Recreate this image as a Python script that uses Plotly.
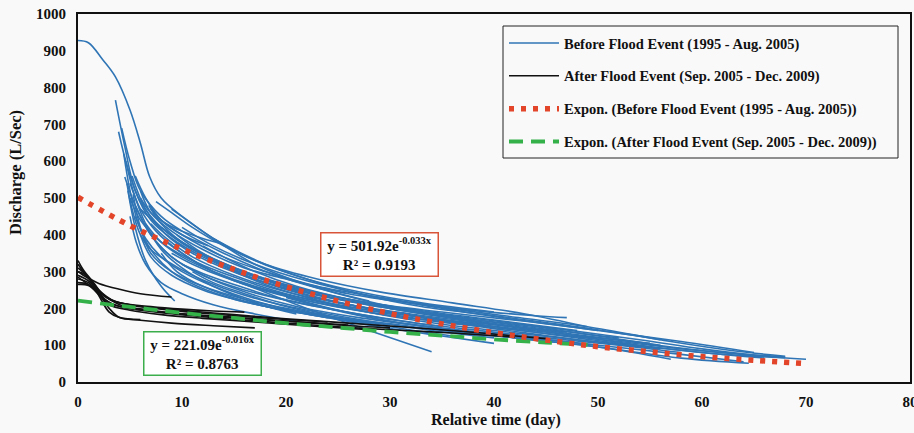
import plotly.graph_objects as go

# ---------------- data ----------------
# Before flood event recession curves (1995 - Aug. 2005)
BEFORE_X = [
    [0, 1, 2.4, 3.6, 5, 6, 6.9, 8, 10, 13, 17, 22, 28],
    [3.6, 4.5, 5.5, 7, 9, 12, 16, 21, 27, 33, 40],
    [3.9, 4.8, 6, 8, 11, 15, 20, 26, 32, 38, 44],
    [4.2, 5, 6, 8, 10, 14, 19, 25, 31, 38, 46, 52],
    [4.5, 5.5, 7, 9, 12, 16, 22, 28, 35],
    [4.8, 5.5, 6.5, 8, 9.3],
    [5, 6, 7.5, 10, 13, 17, 22, 28, 34],
    [5, 6, 8, 11, 15, 20, 26, 32, 40, 48, 56],
    [5.2, 6.5, 8.5, 11, 14, 18, 24, 30, 37, 45, 53, 60, 66],
    [5.5, 7, 9, 12, 16, 21, 27, 34, 42, 50, 58, 64],
    [5.5, 6.5, 8, 10, 13, 17, 22, 28],
    [6, 7, 9, 12, 16, 20, 26, 33, 41, 49, 57, 63, 68],
    [6, 8, 10, 13, 17, 22, 28, 35, 43, 50],
    [6.5, 8, 10, 13, 17, 22, 28, 35, 42],
    [7, 8, 10, 14, 18, 23, 29, 36, 44, 47],
    [7.5, 9, 11, 14, 18, 23, 29, 36, 43, 49],
    [8, 10, 13, 17, 22, 28, 35, 42, 50, 55],
    [8.5, 10, 12, 15, 19, 24, 30],
    [9, 10.5, 13, 17, 22, 27, 33, 40],
    [9, 11, 14, 18, 23, 29, 36, 44, 52, 60, 68],
    [10, 12, 15, 19, 24, 30, 37, 45, 52, 58],
    [10, 13, 17, 22, 28, 35, 42, 50, 58, 65],
    [11, 13, 16, 20, 25, 30, 36],
    [12, 14, 17, 21, 26, 32, 39, 46, 54, 60, 66, 70],
    [13, 15, 18, 22, 27, 33, 40, 48, 56],
    [5.5, 6.5, 8, 10, 12.5],
    [6, 7, 8.5, 10, 12, 14],
    [15, 18, 22, 27, 33, 40, 48, 55],
    [18, 21, 25, 30, 36, 42, 50, 57],
    [20, 24, 29, 35, 42, 50, 58, 64.5],
    [4.6, 5.3, 6.5, 8, 10, 13, 17, 21],
    [7, 8.5, 11, 15, 20, 26, 32, 39, 47],
    [9.5, 12, 16, 21, 27, 34, 41, 48],
    [4.7, 5.2, 6, 7, 8.5, 11, 14, 18, 23, 28, 34, 40],
    [5.3, 6, 7, 9, 12, 16, 20, 25, 30],
    [5, 5.6, 6.5, 8, 10, 13, 17, 21],
    [6, 7, 9, 12, 15, 19, 24, 29, 35, 40],
    [8, 9.5, 12, 16, 20, 25, 31, 38, 45, 50],
    [30, 36, 42, 48, 54, 60, 66],
    [25, 32, 40, 48, 55, 62, 68],
    [4.4, 5, 5.8, 7, 9, 11.5, 15, 19, 24],
    [6.8, 8, 10, 13, 17, 21, 26, 32, 38, 44, 50, 56],
]
BEFORE_Y = [
    [928, 922, 875, 829, 739, 649, 557, 500, 450, 390, 320, 265, 220],
    [766, 640, 520, 440, 390, 340, 290, 245, 205, 175, 150],
    [680, 580, 490, 420, 360, 310, 260, 220, 190, 165, 140],
    [690, 600, 520, 450, 410, 350, 290, 240, 200, 170, 140, 120],
    [557, 480, 400, 340, 290, 250, 210, 180, 150],
    [520, 420, 330, 260, 220],
    [540, 470, 410, 350, 300, 255, 200, 140, 82],
    [500, 440, 380, 330, 285, 240, 205, 175, 145, 115, 90],
    [560, 470, 400, 350, 310, 270, 230, 200, 170, 140, 110, 85, 70],
    [480, 400, 340, 290, 245, 205, 175, 150, 125, 100, 75, 55],
    [450, 390, 340, 300, 260, 220, 185, 160],
    [520, 460, 410, 360, 310, 280, 240, 210, 180, 150, 110, 85, 70],
    [470, 420, 380, 335, 290, 250, 215, 190, 165, 140],
    [430, 380, 340, 300, 260, 225, 195, 170, 150],
    [470, 440, 400, 340, 300, 260, 230, 200, 180, 175],
    [490, 460, 420, 370, 320, 280, 245, 215, 185, 150],
    [420, 380, 330, 280, 235, 200, 170, 145, 120, 105],
    [380, 350, 315, 275, 240, 210, 180],
    [470, 440, 390, 330, 280, 245, 215, 190],
    [350, 320, 285, 250, 215, 185, 160, 135, 110, 85, 68],
    [320, 295, 265, 230, 200, 170, 145, 120, 100, 80],
    [420, 370, 320, 275, 235, 200, 170, 140, 110, 80],
    [300, 270, 240, 205, 175, 150, 125],
    [370, 340, 300, 260, 225, 195, 170, 145, 115, 90, 70, 62],
    [390, 360, 320, 280, 240, 205, 180, 150, 115],
    [560, 500, 440, 400, 370],
    [500, 460, 430, 410, 390, 375],
    [300, 265, 230, 195, 165, 140, 115, 95],
    [250, 225, 195, 165, 140, 120, 95, 62],
    [230, 200, 170, 145, 120, 95, 65, 51],
    [600, 520, 430, 360, 310, 260, 215, 185],
    [430, 390, 340, 290, 245, 210, 185, 160, 135],
    [400, 350, 300, 255, 220, 190, 165, 140],
    [540, 470, 400, 360, 330, 290, 255, 220, 190, 165, 140, 120],
    [510, 420, 350, 300, 260, 225, 200, 175, 155],
    [450, 380, 320, 270, 240, 210, 185, 165],
    [400, 340, 290, 250, 225, 200, 175, 150, 125, 105],
    [350, 300, 260, 220, 195, 175, 155, 130, 115, 100],
    [200, 175, 150, 125, 100, 80, 65],
    [215, 180, 150, 120, 95, 75, 66],
    [620, 520, 430, 360, 300, 260, 225, 200, 175],
    [480, 430, 380, 330, 285, 250, 220, 195, 170, 150, 125, 100],
]

# After flood event recession curves (Sep. 2005 - Dec. 2009)
AFTER_X = [
    [0, 0.5, 1, 2, 4, 6, 9],
    [0, 0.5, 1.5, 2.5, 4, 7, 10, 13, 16],
    [0, 1, 2, 3, 5, 8, 12, 16, 20, 25, 30],
    [0, 1, 2, 3, 4, 6, 9, 13, 17],
    [0, 1, 2, 3.5, 6, 10, 15, 20, 26, 32, 38, 45],
    [0, 1, 2, 3, 5, 8, 12, 17, 22, 28],
    [0, 0.5, 1.5, 3, 5, 8, 12, 16, 20, 24],
    [0, 1, 2.5, 4, 7, 11, 15, 20, 25, 30, 36, 42],
    [0, 1, 2, 3, 4, 6],
    [0, 2, 4, 7, 10, 14, 18, 22, 26],
]
AFTER_Y = [
    [300, 290, 282, 268, 252, 240, 231],
    [330, 305, 270, 235, 215, 205, 198, 193, 190],
    [290, 275, 245, 215, 200, 190, 180, 172, 165, 155, 147],
    [280, 270, 240, 200, 175, 168, 160, 153, 147],
    [310, 285, 250, 220, 205, 195, 183, 172, 160, 148, 135, 118],
    [270, 265, 240, 210, 195, 183, 173, 163, 153, 142],
    [320, 300, 265, 225, 210, 198, 187, 178, 170, 163],
    [265, 262, 225, 205, 192, 180, 170, 160, 150, 142, 133, 122],
    [300, 285, 235, 190, 175, 170],
    [285, 245, 210, 195, 185, 178, 170, 162, 155],
]

# Exponential trendlines
TREND_BEFORE_X = [0, 5, 10, 15, 20, 25, 30, 35, 40, 45, 50, 55, 60, 65, 70]
TREND_BEFORE_Y = [502, 425, 361, 306, 259, 220, 186, 158, 134, 114, 96, 82, 69, 59, 50]
TREND_AFTER_X = [0, 5, 10, 15, 20, 25, 30, 35, 40, 45, 49]
TREND_AFTER_Y = [221, 204, 188, 174, 160, 148, 136, 126, 116, 107, 101]

NAMES = [
    "Before Flood Event (1995 - Aug. 2005)",
    "After Flood Event (Sep. 2005 - Dec. 2009)",
    "Expon. (Before Flood Event (1995 - Aug. 2005))",
    "Expon. (After Flood Event (Sep. 2005 - Dec. 2009))",
]
EQ_BEFORE = "y = 501.92e<sup>-0.033x</sup><br>R² = 0.9193"
EQ_AFTER = "y = 221.09e<sup>-0.016x</sup><br>R² = 0.8763"
X_TITLE = "Relative time (day)"
Y_TITLE = "Discharge (L/Sec)"

# ---------------- styles ----------------
BLUE = "#2f75b5"
BLACK = "#111111"
RED = "#e2452a"
GREEN = "#35b14a"
FONT = "Liberation Serif"
BG = "#f9f9f9"

fig = go.Figure()

for i, (xs, ys) in enumerate(zip(BEFORE_X, BEFORE_Y)):
    fig.add_trace(go.Scatter(
        x=xs, y=ys, mode="lines", line=dict(color=BLUE, width=1.6, shape="spline"),
        name=NAMES[0], legendgroup="g1", showlegend=(i == 0), legendrank=1))

for i, (xs, ys) in enumerate(zip(AFTER_X, AFTER_Y)):
    fig.add_trace(go.Scatter(
        x=xs, y=ys, mode="lines", line=dict(color=BLACK, width=1.6, shape="spline"),
        name=NAMES[1], legendgroup="g2", showlegend=(i == 0), legendrank=2))

fig.add_trace(go.Scatter(
    x=TREND_AFTER_X, y=TREND_AFTER_Y, mode="lines",
    line=dict(color=GREEN, width=3.8, dash="14px,8px", shape="spline"),
    name=NAMES[3], legendgroup="g4", legendrank=4))

fig.add_trace(go.Scatter(
    x=TREND_BEFORE_X, y=TREND_BEFORE_Y, mode="lines",
    line=dict(color=RED, width=5.5, dash="5px,7px", shape="spline"),
    name=NAMES[2], legendgroup="g3", legendrank=3))

BOLD = dict(family=FONT, color="#111", weight="bold")

fig.add_annotation(
    x=29.0, y=346, xref="x", yref="y", text=EQ_BEFORE, showarrow=False,
    font=dict(size=15, **BOLD), align="center",
    bordercolor="#d9553a", borderwidth=1.5, borderpad=2, bgcolor="white",
    width=112)
fig.add_annotation(
    x=12.0, y=78, xref="x", yref="y", text=EQ_AFTER, showarrow=False,
    font=dict(size=15, **BOLD), align="center",
    bordercolor="#3cae4c", borderwidth=1.5, borderpad=2, bgcolor="white",
    width=112)

# axis titles placed as in the reference
fig.add_annotation(
    x=-0.0745, y=0.568, xref="paper", yref="paper", text=Y_TITLE, showarrow=False,
    textangle=-90, xanchor="center", yanchor="middle", font=dict(size=16.5, **BOLD))
fig.add_annotation(
    x=0.5024, y=-0.103, xref="paper", yref="paper", text=X_TITLE, showarrow=False,
    xanchor="center", yanchor="middle", font=dict(size=16, **BOLD))

# legend frame drawn at the reference position
fig.add_shape(type="rect", xref="paper", yref="paper",
              x0=(503 - 78) / 832, x1=(898 - 78) / 832,
              y0=(382 - 158) / 368, y1=(382 - 26) / 368,
              line=dict(color="#222", width=1), fillcolor=BG, layer="below")

fig.update_layout(
    width=914, height=433,
    margin=dict(l=78, r=4, t=14, b=51),
    paper_bgcolor=BG, plot_bgcolor=BG,
    font=dict(size=14, **BOLD),
    legend=dict(
        x=(504 - 78) / 832, y=(382 - 27) / 368, xanchor="left", yanchor="top",
        bgcolor="rgba(0,0,0,0)", borderwidth=0,
        font=dict(size=14.5, **BOLD),
        traceorder="grouped", tracegroupgap=11,
        itemwidth=50),
    showlegend=True,
)
fig.update_xaxes(
    range=[0, 80], dtick=10, tick0=0, showgrid=False, zeroline=False,
    showline=True, linecolor="#111", linewidth=2, mirror=True, automargin=False,
    ticks="", tickfont=dict(size=15, **BOLD), ticklabelstandoff=5,
    ticklabeloverflow="allow")
fig.update_yaxes(
    range=[0, 1000], dtick=100, tick0=0, showgrid=False, zeroline=False,
    showline=True, linecolor="#111", linewidth=2, mirror=True, automargin=False,
    ticks="", tickfont=dict(size=15, **BOLD), ticklabelstandoff=7,
    ticklabeloverflow="allow")

fig.write_html(
    "out.html",
    config={"displayModeBar": False},
    post_script="document.body.style.margin='0';document.body.style.overflow='hidden';")
